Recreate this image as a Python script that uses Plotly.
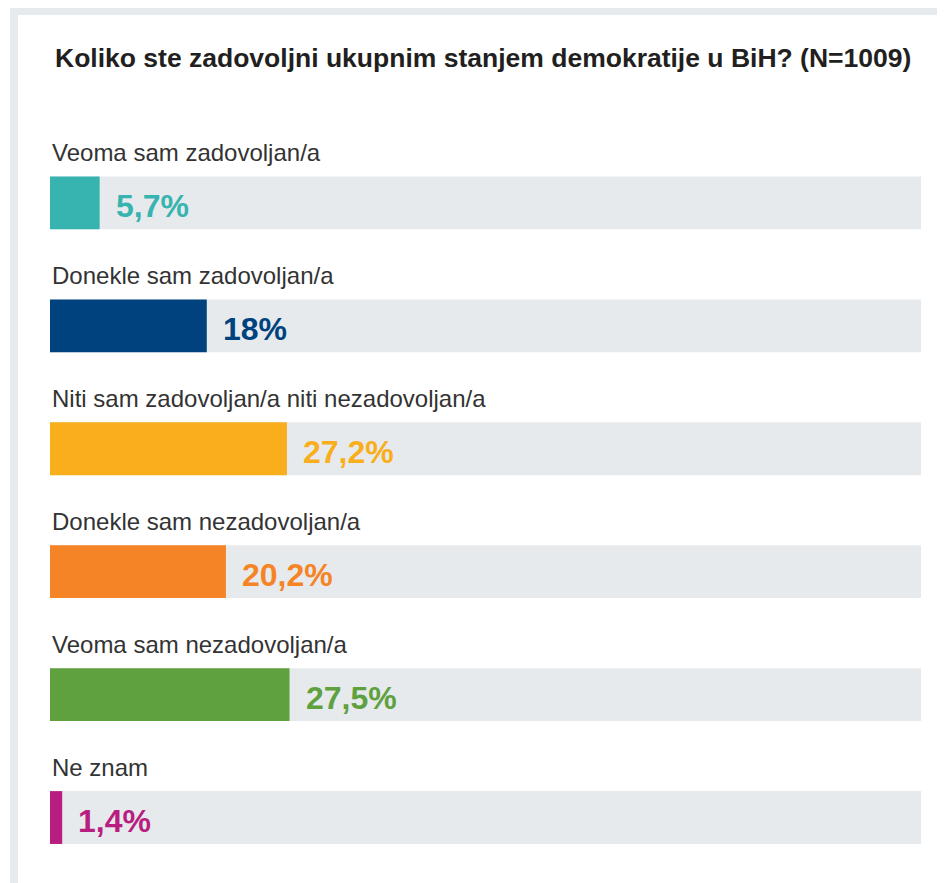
import plotly.graph_objects as go

categories = [
    "Veoma sam zadovoljan/a",
    "Donekle sam zadovoljan/a",
    "Niti sam zadovoljan/a niti nezadovoljan/a",
    "Donekle sam nezadovoljan/a",
    "Veoma sam nezadovoljan/a",
    "Ne znam",
]
values = [5.7, 18, 27.2, 20.2, 27.5, 1.4]
value_labels = ["5,7%", "18%", "27,2%", "20,2%", "27,5%", "1,4%"]
colors = ["#37b3b0", "#00427d", "#f9ae1b", "#f58426", "#5fa13f", "#b81e80"]
track_max = 100
title_text = "Koliko ste zadovoljni ukupnim stanjem demokratije u BiH? (N=1009)"

# page body has an 8px margin; figure sized to fill the rest of the window
OFF = 8
W, H = 945 - OFF, 883 - OFF
ML, MR, MT, MB = 50 - OFF, 24, 80 - OFF, 4
ypos = list(range(len(categories)))

fig = go.Figure()
fig.add_trace(go.Bar(
    y=ypos, x=[track_max] * len(categories), orientation="h",
    marker=dict(color="#e7eaed", line=dict(width=0)), width=0.43,
    hoverinfo="skip", showlegend=False,
))
fig.add_trace(go.Bar(
    y=ypos, x=values, orientation="h",
    marker=dict(color=colors, line=dict(width=0)), width=0.43,
    hovertext=categories, showlegend=False,
))

annotations = []
for i, (cat, v, lab, c) in enumerate(zip(categories, values, value_labels, colors)):
    annotations.append(dict(
        x=0, y=i, xref="x", yref="y", text=cat, showarrow=False,
        xanchor="left", yanchor="middle", yshift=50,
        font=dict(family="Liberation Sans, Arial, sans-serif", size=24, color="#333333"),
    ))
    annotations.append(dict(
        x=v, y=i, xref="x", yref="y", text="<b>%s</b>" % lab, showarrow=False,
        xanchor="left", yanchor="middle", xshift=14, yshift=-3,
        font=dict(family="Liberation Sans, Arial, sans-serif", size=32, color=c),
    ))

pw = W - ML - MR
ph = H - MT - MB
def px_x(p):
    return (p - OFF - ML) / pw
def px_y(p):
    return 1 - (p - OFF - MT) / ph

annotations.append(dict(
    x=px_x(483), y=px_y(58), xref="paper", yref="paper",
    text="<b>%s</b>" % title_text, showarrow=False,
    xanchor="center", yanchor="middle",
    font=dict(family="Liberation Sans, Arial, sans-serif", size=26.5, color="#231f20"),
))

shapes = [dict(
    type="rect", xref="paper", yref="paper",
    x0=px_x(14), x1=px_x(990), y0=px_y(930), y1=px_y(11),
    line=dict(color="#e7eaed", width=8), fillcolor="rgba(0,0,0,0)", layer="below",
)]

fig.update_layout(
    width=W, height=H,
    margin=dict(l=ML, r=MR, t=MT, b=MB, pad=0),
    barmode="overlay",
    plot_bgcolor="white", paper_bgcolor="white",
    xaxis=dict(range=[0, track_max], visible=False, fixedrange=True),
    yaxis=dict(range=[5.5, -1.0], visible=False, fixedrange=True),
    annotations=annotations,
    shapes=shapes,
    showlegend=False,
)

fig.write_html("out.html", config={"displayModeBar": False})
